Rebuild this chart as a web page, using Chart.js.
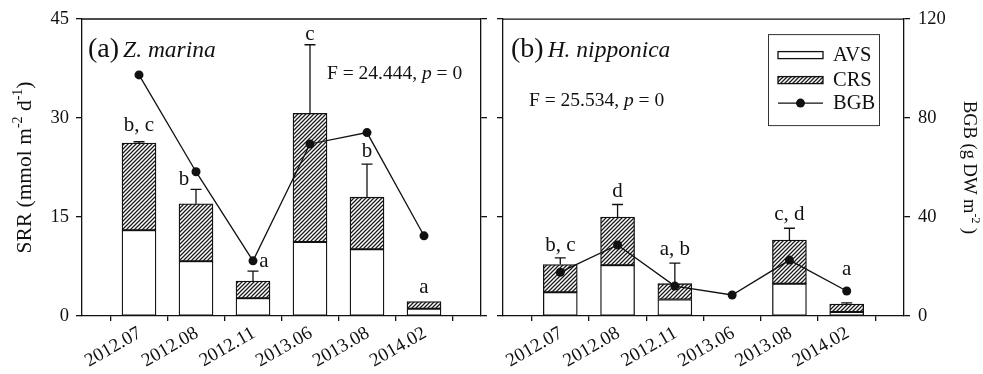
<!DOCTYPE html>
<html>
<head>
<meta charset="utf-8">
<script src="https://cdn.jsdelivr.net/npm/chart.js@4.4.1/dist/chart.umd.min.js"></script>
<style>
  html, body { margin: 0; padding: 0; background: #fff; }
  #wrap { position: relative; width: 983px; height: 374px; overflow: hidden; }
  #boxA { position: absolute; left: 0; top: 0; width: 492px; height: 374px; }
  #boxB { position: absolute; left: 492px; top: 0; width: 491px; height: 374px; }
</style>
</head>
<body>
<div id="wrap">
  <div id="boxA"><canvas id="chartA"></canvas></div>
  <div id="boxB"><canvas id="chartB"></canvas></div>
</div>
<script>
// Sampling dates (shared by both panels)
const categories = ['2012.07', '2012.08', '2012.11', '2013.06', '2013.08', '2014.02'];
const srrTicks = [0, 15, 30, 45];
const bgbTicks = [0, 40, 80, 120];

// (a) Z. marina — SRR split into AVS and CRS (mmol m-2 d-1), BGB (g DW m-2)
const avsA = [13.0, 8.3, 2.7, 11.2, 10.1, 1.1];
const crsA = [13.2, 8.7, 2.6, 19.5, 7.9, 1.1];
const sdA  = [0.2, 2.2, 1.5, 10.4, 5.0, 0];
const bgbA = [97.4, 58.3, 22.3, 69.5, 74.1, 32.4];
const lettersA = ['b, c', 'b', 'a', 'c', 'b', 'a'];

// (b) H. nipponica
const avsB = [3.6, 7.7, 2.5, null, 4.9, 0.6];
const crsB = [4.2, 7.3, 2.4, null, 6.6, 1.2];
const sdB  = [1.0, 1.9, 3.1, null, 1.8, 0.2];
const bgbB = [17.7, 28.7, 12.1, 8.5, 22.6, 10.1];
const lettersB = ['b, c', 'd', 'a, b', '', 'c, d', 'a'];

// ---- styling ----
const SERIF = "'Liberation Serif', 'Times New Roman', serif";
const INK = '#111';
const LW = 1.3;

function hatchPattern() {
  const c = document.createElement('canvas');
  c.width = 4; c.height = 4;
  const g = c.getContext('2d');
  g.fillStyle = '#fff';
  g.fillRect(0, 0, 4, 4);
  g.strokeStyle = '#1a1a1a';
  g.lineWidth = 1.25;
  g.beginPath();
  g.moveTo(0, 4); g.lineTo(4, 0);
  g.moveTo(-1, 1); g.lineTo(1, -1);
  g.moveTo(3, 5); g.lineTo(5, 3);
  g.stroke();
  return g.createPattern(c, 'repeat');
}
const HATCH = hatchPattern();

function drawSegs(ctx, segs, x, y) {
  for (const s of segs) {
    ctx.font = s.font;
    ctx.fillText(s.t, x, y + (s.dy || 0));
    x += ctx.measureText(s.t).width;
  }
  return x;
}
function segsWidth(ctx, segs) {
  let w = 0;
  for (const s of segs) { ctx.font = s.font; w += ctx.measureText(s.t).width; }
  return w;
}
const f = (size, style) => (style ? style + ' ' : '') + size + 'px ' + SERIF;

const srrTitle = [
  { t: 'SRR (mmol m', font: f(21.5) },
  { t: '-2', font: f(14), dy: -9 },
  { t: ' d', font: f(21.5) },
  { t: '-1', font: f(14), dy: -9 },
  { t: ')', font: f(21.5) }
];
const bgbTitle = [
  { t: 'BGB (g DW m', font: f(18.5) },
  { t: '-2', font: f(12), dy: -8 },
  { t: ' )', font: f(18.5) }
];

// Per-panel annotation layout (letter lift above error bar in px, horizontal nudge in px)
const panelA = {
  avs: avsA, crs: crsA, sd: sdA, letters: lettersA,
  letterGap: [11, 4, 4, 5, 7, 8], letterDx: [0, -12, 11, 0, 0, 0],
  tag: '(a)', species: 'Z. marina', fStat: '24.444',
  tagPos: { dx: 6, dy: 38 }, fPos: { dx: 245, dy: 60 },
  title: { segs: srrTitle, side: 'left' }, legend: false
};
const panelB = {
  avs: avsB, crs: crsB, sd: sdB, letters: lettersB,
  letterGap: [7, 7, 8, 0, 8, 28], letterDx: [0, 0, 0, 0, 0, 0],
  tag: '(b)', species: 'H. nipponica', fStat: '25.534',
  tagPos: { dx: 8, dy: 38 }, fPos: { dx: 26, dy: 87 },
  title: { segs: bgbTitle, side: 'right' }, legend: true
};

function panelPlugin(p) {
  return {
    id: 'panelDecor',
    afterDatasetDraw(chart, args) {
      if (args.index !== 0) return; // error bars go on the stacked bars, under the BGB line
      const xs = chart.scales.x, ys = chart.scales.y, ctx = chart.ctx;
      ctx.save();
      ctx.strokeStyle = INK; ctx.lineWidth = LW;
      p.avs.forEach((a, i) => {
        if (a == null || !p.sd[i]) return;
        const top = a + p.crs[i];
        const px = xs.getPixelForValue(i + 1);
        const y0 = ys.getPixelForValue(top), y1 = ys.getPixelForValue(top + p.sd[i]);
        ctx.beginPath();
        ctx.moveTo(px, y0); ctx.lineTo(px, y1);
        ctx.moveTo(px - 5.5, y1); ctx.lineTo(px + 5.5, y1);
        ctx.stroke();
      });
      ctx.restore();
    },
    afterDraw(chart) {
      const ca = chart.chartArea, ctx = chart.ctx;
      const xs = chart.scales.x, ys = chart.scales.y;
      ctx.save();
      // top frame line
      ctx.strokeStyle = INK; ctx.lineWidth = LW;
      ctx.beginPath(); ctx.moveTo(ca.left, ca.top); ctx.lineTo(ca.right, ca.top); ctx.stroke();

      ctx.fillStyle = INK;
      ctx.textBaseline = 'alphabetic';
      // significance letters
      p.letters.forEach((L, i) => {
        if (!L || p.avs[i] == null) return;
        const top = p.avs[i] + p.crs[i] + (p.sd[i] || 0);
        const px = xs.getPixelForValue(i + 1) + p.letterDx[i];
        const py = ys.getPixelForValue(top) - p.letterGap[i];
        ctx.font = f(21);
        ctx.textAlign = 'center';
        ctx.fillText(L, px, py);
      });
      ctx.textAlign = 'left';
      // panel tag and species
      let x = drawSegs(ctx, [{ t: p.tag, font: f(28) }], ca.left + p.tagPos.dx, ca.top + p.tagPos.dy);
      drawSegs(ctx, [{ t: p.species, font: f(23.5, 'italic') }], x + 4, ca.top + p.tagPos.dy);
      // one-way ANOVA result
      drawSegs(ctx, [
        { t: 'F = ' + p.fStat + ', ', font: f(19.5) },
        { t: 'p', font: f(19.5, 'italic') },
        { t: ' = 0', font: f(19.5) }
      ], ca.left + p.fPos.dx, ca.top + p.fPos.dy);

      // axis title with superscripts
      const w = segsWidth(ctx, p.title.segs);
      const cy = (ca.top + ca.bottom) / 2;
      ctx.save();
      if (p.title.side === 'left') {
        ctx.translate(31, cy);
        ctx.rotate(-Math.PI / 2);
      } else {
        ctx.translate(chart.width - 19, cy);
        ctx.rotate(Math.PI / 2);
      }
      drawSegs(ctx, p.title.segs, -w / 2, 0);
      ctx.restore();

      // legend
      if (p.legend) {
        const bw = 111, bh = 91;
        const bx = ca.right - 25 - bw, by = ca.top + 15;
        ctx.strokeStyle = '#333'; ctx.lineWidth = 1;
        ctx.strokeRect(bx + 0.5, by + 0.5, bw, bh);
        const sx = bx + 10, sw = 45, sh = 7;
        const rows = [by + 21, by + 46, by + 69];
        ctx.lineWidth = LW; ctx.strokeStyle = INK;
        // AVS
        ctx.fillStyle = '#fff';
        ctx.fillRect(sx, rows[0] - sh / 2, sw, sh);
        ctx.strokeRect(sx, rows[0] - sh / 2, sw, sh);
        // CRS
        ctx.fillStyle = HATCH;
        ctx.fillRect(sx, rows[1] - sh / 2, sw, sh);
        ctx.strokeRect(sx, rows[1] - sh / 2, sw, sh);
        // BGB
        ctx.beginPath(); ctx.moveTo(sx, rows[2]); ctx.lineTo(sx + sw, rows[2]); ctx.stroke();
        ctx.fillStyle = INK;
        ctx.beginPath(); ctx.arc(sx + sw / 2, rows[2], 4.5, 0, Math.PI * 2); ctx.fill();
        ctx.font = f(20.5);
        ctx.textBaseline = 'middle';
        ['AVS', 'CRS', 'BGB'].forEach((t, k) => ctx.fillText(t, sx + sw + 10, rows[k] + 1));
      }
      ctx.restore();
    }
  };
}

function buildChart(canvasId, p, bgb, leftW, rightW, showLeft, showRight) {
  const pts = arr => arr.map((v, i) => ({ x: i + 1, y: v }));
  const tickFont = { family: SERIF, size: 18.5 };
  const gridStyle = { display: true, drawOnChartArea: false, tickLength: 6, color: INK, lineWidth: LW };
  const borderStyle = { display: true, color: INK, width: LW };
  return new Chart(document.getElementById(canvasId), {
    type: 'bar',
    data: {
      datasets: [
        { label: 'AVS', data: pts(p.avs), backgroundColor: '#fff', borderColor: INK, borderWidth: LW,
          borderSkipped: false, barThickness: 34, order: 1, yAxisID: 'y' },
        { label: 'CRS', data: pts(p.crs), backgroundColor: HATCH, borderColor: INK, borderWidth: LW,
          borderSkipped: false, barThickness: 34, order: 1, yAxisID: 'y' },
        { type: 'line', label: 'BGB', data: pts(bgb), yAxisID: 'yB', order: 0,
          borderColor: INK, borderWidth: LW, pointRadius: 4.5, pointBackgroundColor: INK,
          pointBorderWidth: 0, fill: false, tension: 0 }
      ]
    },
    options: {
      responsive: true, maintainAspectRatio: false, animation: false, events: [],
      devicePixelRatio: 1,
      layout: { padding: { top: 19, left: 0, right: 0, bottom: 0 } },
      plugins: { legend: { display: false }, tooltip: { enabled: false } },
      scales: {
        x: {
          type: 'linear', min: 0, max: 7, stacked: true, offset: false,
          afterBuildTicks: s => { s.ticks = categories.map((c, i) => ({ value: i + 1 })); },
          ticks: { autoSkip: false, minRotation: 30, maxRotation: 30, padding: 1, labelOffset: 1,
                   color: INK, font: { family: SERIF, size: 19 },
                   callback: v => categories[v - 1] || '' },
          grid: { display: true, drawOnChartArea: false, tickLength: 5, color: INK, lineWidth: LW },
          border: borderStyle,
          afterFit: s => { s.height = 58; }
        },
        y: {
          position: 'left', min: 0, max: 45, stacked: true,
          afterBuildTicks: s => { s.ticks = srrTicks.map(v => ({ value: v })); },
          ticks: { display: showLeft, padding: 7, color: INK, font: tickFont },
          grid: gridStyle, border: borderStyle,
          afterFit: s => { s.width = leftW; }
        },
        yB: {
          position: 'right', min: 0, max: 120,
          afterBuildTicks: s => { s.ticks = bgbTicks.map(v => ({ value: v })); },
          ticks: { display: showRight, padding: 8, color: INK, font: tickFont },
          grid: gridStyle, border: borderStyle,
          afterFit: s => { s.width = rightW; }
        }
      }
    },
    plugins: [panelPlugin(p)]
  });
}

buildChart('chartA', panelA, bgbA, 82, 11, true, false);
buildChart('chartB', panelB, bgbB, 11, 79, false, true);
</script>
</body>
</html>
